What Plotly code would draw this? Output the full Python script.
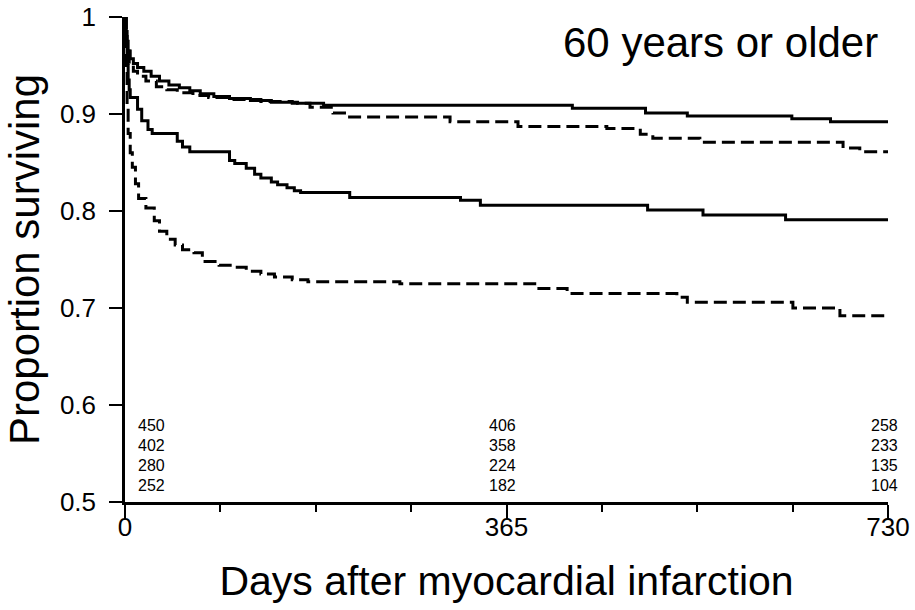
import plotly.graph_objects as go

# Kaplan-Meier step estimates, patients aged 60 years or older
days_a = [0, 1, 2, 3, 5, 8, 12, 18, 25, 33, 42, 52, 62, 72, 85, 100, 120, 140,
          165, 190, 428, 498, 538, 638, 675, 730]
surv_a = [1.0, 0.985, 0.975, 0.965, 0.957, 0.952, 0.948, 0.944, 0.939, 0.934,
          0.930, 0.927, 0.924, 0.921, 0.918, 0.916, 0.914, 0.912, 0.911, 0.909,
          0.906, 0.901, 0.898, 0.895, 0.892, 0.892]

days_b = [0, 1, 2, 4, 8, 12, 20, 30, 40, 50, 65, 80, 100, 130, 160, 177, 199,
          212, 311, 376, 461, 493, 505, 550, 687, 703, 730]
surv_b = [1.0, 0.98, 0.965, 0.952, 0.944, 0.939, 0.934, 0.928, 0.925, 0.922,
          0.919, 0.917, 0.915, 0.913, 0.911, 0.907, 0.901, 0.897, 0.892, 0.887,
          0.885, 0.879, 0.875, 0.871, 0.865, 0.861, 0.861]

days_c = [0, 1, 2, 3, 4, 5, 12, 16, 22, 26, 50, 55, 62, 100, 105, 116, 124, 130,
          140, 146, 155, 162, 168, 215, 321, 340, 500, 553, 632, 730]
surv_c = [1.0, 0.97, 0.95, 0.935, 0.925, 0.917, 0.905, 0.893, 0.884, 0.880,
          0.872, 0.866, 0.861, 0.852, 0.849, 0.844, 0.838, 0.834, 0.830, 0.827,
          0.824, 0.821, 0.819, 0.814, 0.811, 0.806, 0.801, 0.796, 0.791, 0.791]

days_d = [0, 1, 2, 3, 5, 7, 10, 13, 20, 28, 33, 40, 48, 55, 66, 74, 90, 104, 116,
          130, 143, 160, 175, 263, 392, 423, 528, 538, 639, 684, 730]
surv_d = [1.0, 0.95, 0.91, 0.88, 0.860, 0.845, 0.828, 0.813, 0.803, 0.790, 0.779,
          0.771, 0.765, 0.760, 0.757, 0.748, 0.744, 0.742, 0.738, 0.735, 0.732,
          0.729, 0.727, 0.725, 0.720, 0.715, 0.711, 0.706, 0.700, 0.692, 0.692]

# Numbers at risk, one row per curve, at the labelled days
risk_days = [0, 365, 730]
risk_a = [450, 406, 258]
risk_b = [402, 358, 233]
risk_c = [280, 224, 135]
risk_d = [252, 182, 104]

x_ticks = [0, 365, 730]
y_ticks = [0.5, 0.6, 0.7, 0.8, 0.9, 1.0]
y_tick_text = ["0.5", "0.6", "0.7", "0.8", "0.9", "1"]

FONT = "Liberation Sans, Arial, Helvetica, sans-serif"

fig = go.Figure()
curves = [(days_a, surv_a, "solid"), (days_b, surv_b, "13px,6px"),
          (days_c, surv_c, "solid"), (days_d, surv_d, "13px,6px")]
for xs, ys, dash in curves:
    fig.add_trace(go.Scatter(
        x=xs, y=ys, mode="lines", line_shape="hv",
        line=dict(color="black", width=3, dash=dash),
        showlegend=False, hoverinfo="skip"))

# at-risk table inside the lower part of the plot
rows = [risk_a, risk_b, risk_c, risk_d]
for i, row in enumerate(rows):
    yv = 0.579 - 0.0206 * i
    for j, n in enumerate(row):
        d = risk_days[j]
        if j == 0:
            fig.add_annotation(x=d, y=yv, text=str(n), showarrow=False,
                               xanchor="left", xshift=11,
                               font=dict(size=16, family=FONT, color="black"))
        else:
            fig.add_annotation(x=d, y=yv, text=str(n), showarrow=False,
                               xanchor="center", xshift=-4,
                               font=dict(size=16, family=FONT, color="black"))

fig.add_annotation(x=722, y=0.974, text="60 years or older", showarrow=False,
                   xanchor="right", yanchor="middle",
                   font=dict(size=42, family=FONT, color="black"))

fig.update_layout(
    width=915, height=610,
    margin=dict(l=125, r=27, t=17, b=108),
    paper_bgcolor="white", plot_bgcolor="white",
    font=dict(family=FONT, color="black"),
    xaxis=dict(
        range=[0, 730], showgrid=False, zeroline=False,
        showline=True, linecolor="black", linewidth=2.5,
        tickmode="array", tickvals=x_ticks, ticktext=[str(v) for v in x_ticks],
        ticks="outside", ticklen=14, tickwidth=2, tickcolor="black",
        tickfont=dict(size=26, family=FONT, color="black"),
        ticklabelstandoff=-14,
        minor=dict(tick0=0, dtick=91.25, ticks="outside", ticklen=7,
                   tickwidth=2, tickcolor="black"),
        title=dict(text="Days after myocardial infarction", standoff=26,
                   font=dict(size=41, family=FONT, color="black")),
        automargin=False),
    yaxis=dict(
        range=[0.5, 1.0], showgrid=False, zeroline=False,
        showline=True, linecolor="black", linewidth=2.5,
        tickmode="array", tickvals=y_ticks, ticktext=y_tick_text,
        ticks="outside", ticklen=13, tickwidth=2, tickcolor="black",
        tickfont=dict(size=26, family=FONT, color="black"),
        ticklabelstandoff=8,
        title=dict(text="Proportion surviving", standoff=8,
                   font=dict(size=42, family=FONT, color="black")),
        automargin=False),
)

fig.write_html("out.html")
